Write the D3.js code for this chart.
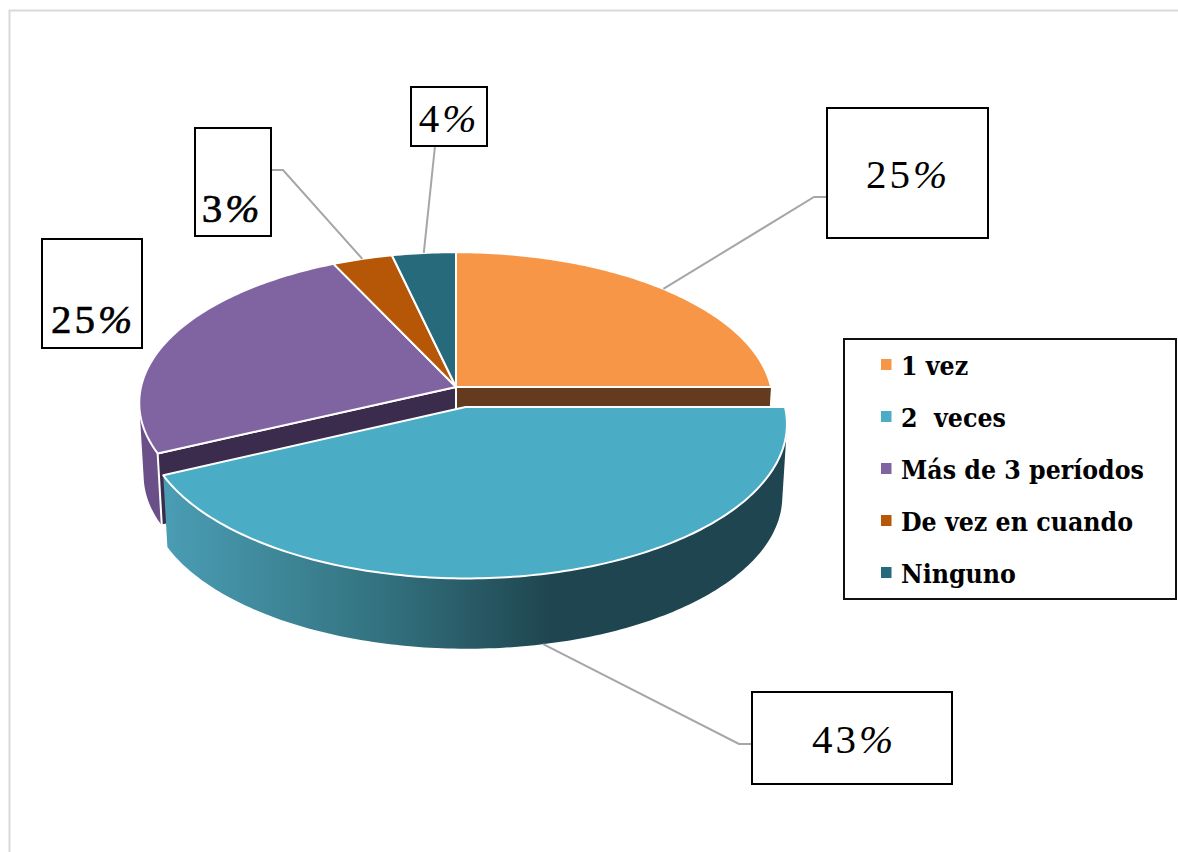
<!DOCTYPE html>
<html>
<head>
<meta charset="utf-8">
<script src="https://cdn.jsdelivr.net/npm/d3@7"></script>
<style>
    html, body { margin: 0; padding: 0; background: #fff; }
    svg { display: block; }
    .legend-label { font-family: "DejaVu Serif Condensed", "DejaVu Serif", serif; font-weight: bold; font-size: 26.4px; white-space: pre; }
    .value-label { font-family: "Liberation Serif", serif; font-size: 41px; letter-spacing: 3px; }
</style>
</head>
<body>
<div id="chart"></div>
<script>
// values
const categories = ['1 vez', '2  veces', 'Más de 3 períodos', 'De vez en cuando', 'Ninguno']
const shares = [25, 43, 25, 3.4, 3.6]
const colors = ['#f79646', '#4bacc6', '#8064a2', '#b65708', '#276a7c']

let width = 1178,
    height = 852

let svg = d3.select('#chart')
    .append('svg')
    .attr('width', width)
    .attr('height', height)

// frame of the chart area, only top and left show in the crop
svg.append('path')
    .attr('d', 'M9.5,852V10.5H1178')
    .attr('fill', 'none')
    .attr('stroke', '#d9d9d9')
    .attr('stroke-width', 2)

let color = d3.scaleOrdinal().domain(categories).range(colors)
let pct = d3.format('.0%')

let pie = d3.pie().sort(null).value(function (d) { return d })
let slices = pie(shares)

// disk plane -> screen, with a bit of perspective
let cx = 456, cy = 387, rx = 315, ry = 149
let persp = 0.105
let xScale = d3.scaleLinear().domain([0, 1]).range([cx, cx + rx])
let yScale = d3.scaleLinear().domain([0, 1]).range([cy, cy + ry])

// the lower plane of the cake is a bit smaller and shifted down
let depth = 73, shrink = 0.986

function project(u, v, lower) {
    let s = 1 / (1 - persp * v)
    let k = lower ? shrink : 1
    return [xScale(u * s * k), yScale(v * s * k) + (lower ? depth : 0)]
}

// blue slice is pulled out of the pie
function offset(i) {
    return i === 1 ? [0.03, 0.132] : [0, 0]
}

function rimPoint(angle, i, lower) {
    let off = offset(i)
    return project(Math.sin(angle) + off[0], -Math.cos(angle) + off[1], lower)
}

function rim(d, i, lower) {
    let n = Math.ceil((d.endAngle - d.startAngle) * 60)
    return d3.range(n + 1).map(function (k) {
        return rimPoint(d.startAngle + (d.endAngle - d.startAngle) * k / n, i, lower)
    })
}

function apex(i, lower) {
    let off = offset(i)
    return project(off[0], off[1], lower)
}

let line = d3.line()
let closed = function (pts) { return line(pts) + 'Z' }

// outer wall as a strip of small quads, the hull keeps them all wound the same way
function wall(i) {
    let top = rim(slices[i], i, false)
    let bottom = rim(slices[i], i, true)
    return d3.range(top.length - 1).map(function (k) {
        return closed(d3.polygonHull([top[k], top[k + 1], bottom[k + 1], bottom[k]]))
    }).join('')
}

// gradient on the front wall of the blue slice
let defs = svg.append('defs')
let grad = defs.append('linearGradient')
    .attr('id', 'wall-blue')
    .attr('gradientUnits', 'userSpaceOnUse')
    .attr('x1', 165).attr('x2', 785).attr('y1', 0).attr('y2', 0)
grad.selectAll('stop')
    .data([[0, '#4a9db4'], [0.35, '#33727f'], [0.62, '#1f4650'], [1, '#1f4650']])
    .enter().append('stop')
    .attr('offset', function (d) { return d[0] })
    .attr('stop-color', function (d) { return d[1] })

// purple outer wall
svg.append('path')
    .attr('d', wall(2))
    .attr('fill', '#6b4f88')

// cut faces behind the blue slice
svg.append('path')
    .attr('d', closed([apex(0, false), rimPoint(slices[0].endAngle, 0, false), rimPoint(slices[0].endAngle, 0, true), apex(0, true)]))
    .attr('fill', '#653b1f')
svg.append('path')
    .attr('d', closed([apex(2, false), rimPoint(slices[2].startAngle, 2, false), rimPoint(slices[2].startAngle, 2, true), apex(2, true)]))
    .attr('fill', '#3b2b4c')
    .attr('stroke', '#fff')
    .attr('stroke-width', 2)

// top faces, blue goes last since it sits in front
let order = [0, 2, 3, 4]
svg.selectAll('path.slice')
    .data(order)
    .enter()
    .append('path')
    .attr('class', 'slice')
    .attr('d', function (i) { return closed([apex(i, false)].concat(rim(slices[i], i, false))) })
    .attr('fill', function (i) { return color(categories[i]) })
    .attr('stroke', '#fff')
    .attr('stroke-width', 2)
    .attr('stroke-linejoin', 'round')

svg.append('path')
    .attr('d', wall(1))
    .attr('fill', 'url(#wall-blue)')
svg.append('path')
    .attr('d', closed([apex(1, false)].concat(rim(slices[1], 1, false))))
    .attr('fill', color(categories[1]))
    .attr('stroke', '#fff')
    .attr('stroke-width', 2)
    .attr('stroke-linejoin', 'round')

// leader lines start on the slice rim at its middle angle
function mid(d) { return (d.startAngle + d.endAngle) / 2 }

let leaders = [
    { slice: 0, lower: false, via: [[814, 197], [827, 197]] },
    { slice: 1, lower: true, via: [[739, 744], [752, 744]] },
    { slice: 3, lower: false, via: [[283, 170], [271, 170]] },
    { slice: 4, lower: false, via: [[435, 146]] }
]
svg.selectAll('path.leader')
    .data(leaders)
    .enter()
    .append('path')
    .attr('class', 'leader')
    .attr('d', function (d) {
        return line([rimPoint(mid(slices[d.slice]), d.slice, d.lower)].concat(d.via))
    })
    .attr('fill', 'none')
    .attr('stroke', '#a6a6a6')
    .attr('stroke-width', 2)

// value boxes
let boxes = [
    { slice: 0, x: 827, y: 108, w: 161, h: 130, tx: 908, ty: 188, heavy: false },
    { slice: 1, x: 752, y: 692, w: 200, h: 92, tx: 854, ty: 753, heavy: false },
    { slice: 2, x: 42, y: 239, w: 100, h: 109, tx: 93, ty: 333, heavy: true },
    { slice: 3, x: 195, y: 128, w: 76, h: 108, tx: 232, ty: 222, heavy: true },
    { slice: 4, x: 411, y: 87, w: 76, h: 59, tx: 449, ty: 132, heavy: false }
]
let box = svg.selectAll('g.value')
    .data(boxes)
    .enter()
    .append('g')
    .attr('class', 'value')
box.append('rect')
    .attr('x', function (d) { return d.x })
    .attr('y', function (d) { return d.y })
    .attr('width', function (d) { return d.w })
    .attr('height', function (d) { return d.h })
    .attr('fill', '#fff')
    .attr('stroke', '#000')
    .attr('stroke-width', 2)
let label = box.append('text')
    .attr('class', 'value-label')
    .attr('x', function (d) { return d.tx })
    .attr('y', function (d) { return d.ty })
    .attr('text-anchor', 'middle')
    .attr('stroke', function (d) { return d.heavy ? '#000' : 'none' })
    .attr('stroke-width', 0.6)
label.append('tspan')
    .text(function (d) { return pct(shares[d.slice] / 100).replace('%', '') })
label.append('tspan')
    .attr('font-style', 'italic')
    .text('%')

// legend
svg.append('rect')
    .attr('x', 844).attr('y', 339)
    .attr('width', 332).attr('height', 260)
    .attr('fill', '#fff')
    .attr('stroke', '#111')
    .attr('stroke-width', 2)

let rowScale = d3.scalePoint().domain(categories).range([366, 574])
let row = svg.selectAll('g.legend')
    .data(categories)
    .enter()
    .append('g')
    .attr('class', 'legend')
    .attr('transform', function (d) { return 'translate(0,' + rowScale(d) + ')' })
row.append('rect')
    .attr('x', 881).attr('y', -7)
    .attr('width', 10.5).attr('height', 11)
    .attr('fill', function (d) { return color(d) })
row.append('text')
    .attr('class', 'legend-label')
    .attr('x', 901)
    .attr('y', 9)
    .text(function (d) { return d })
</script>
</body>
</html>
